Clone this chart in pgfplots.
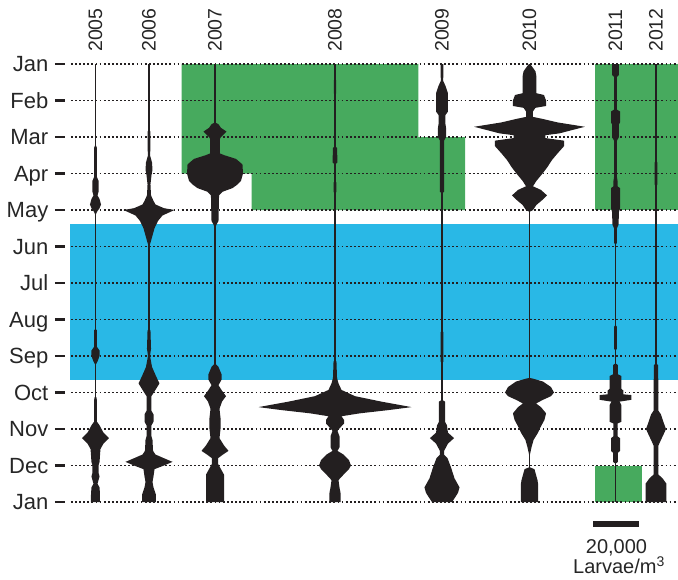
\documentclass[border=0pt]{standalone}
\usepackage{fontspec}
\setmainfont{Liberation Sans}
\usepackage{pgfplots}
\usepackage{pgfplotstable}
\pgfplotsset{compat=1.18}

\definecolor{kite}{HTML}{231F20}
\definecolor{sgreen}{RGB}{71,170,94}
\definecolor{sblue}{RGB}{41,184,230}

% kite widths: t = month (0 = Jan), w = larvae per m^3 (thousands)
\pgfplotstableread{
t w
0 0
2.2 0
2.3 1.3
3.1 1.3
3.2 2.7
3.5 2.7
3.6 1.8
3.7 3.6
3.85 4.9
3.95 3.6
4.05 1.3
4.15 0
7.25 0
7.3 1.3
7.75 1.3
7.85 3.6
8.0 3.6
8.15 1.8
8.25 0
9.1 0
9.15 1.1
9.8 1.3
9.9 3.6
10.1 7.1
10.25 12.0
10.4 7.1
10.55 4.4
10.9 3.6
11.0 2.7
11.2 2.7
11.3 3.6
11.4 2.7
11.5 1.8
11.6 3.6
11.8 4.0
12 4.0
}\yA
\pgfplotstableread{
t w
0 0
1.8 0
1.85 1.3
2.3 1.3
2.5 0.9
2.7 2.7
2.9 3.1
3.05 2.2
3.3 1.3
3.6 1.8
3.75 4.0
3.85 5.8
3.95 13.3
4.0 22.7
4.05 19.1
4.15 12.0
4.3 8.0
4.5 4.9
4.7 3.1
4.9 1.3
5.0 0
7.25 0
7.3 1.3
7.8 1.8
8.0 0.9
8.3 2.7
8.55 6.2
8.75 9.3
8.95 5.3
9.1 2.2
9.5 2.2
9.6 4.0
9.8 4.0
9.9 2.2
10.2 2.2
10.3 3.1
10.6 3.6
10.7 5.8
10.8 13.3
10.9 20.9
11.0 13.3
11.1 4.9
11.3 4.0
11.45 3.1
11.6 4.0
11.8 6.2
12 6.2
}\yB
\pgfplotstableread{
t w
0 0
1.6 0
1.65 3.1
1.75 5.3
1.85 10.2
1.95 7.1
2.0 5.3
2.05 4.4
2.45 4.4
2.5 8.4
2.6 18.7
2.75 24.4
3.0 24.9
3.2 23.1
3.3 20.0
3.4 15.6
3.5 6.7
3.6 3.6
4.3 3.1
4.4 1.3
4.5 0
8.2 0
8.3 3.1
8.5 5.8
8.65 5.8
8.8 3.1
8.95 6.2
9.1 9.8
9.25 6.2
9.45 4.0
9.7 4.9
10.0 4.9
10.25 4.0
10.45 8.0
10.6 12.0
10.7 7.1
10.8 2.7
10.95 2.7
11.15 6.2
11.25 8.0
12 8.0
}\yC
\pgfplotstableread{
t w
0 0
0.4 0
0.45 1.1
0.8 1.1
0.85 0
2.25 0
2.3 1.8
2.7 2.2
2.75 0
3.2 0
3.25 1.3
3.5 1.3
3.55 0
8.1 0
8.15 1.3
8.6 1.8
8.75 3.1
8.93 5.8
9.1 17.8
9.25 41.3
9.4 68.0
9.48 48.0
9.57 22.2
9.65 5.8
9.75 8.0
9.85 8.0
9.97 4.4
10.05 2.2
10.2 4.0
10.5 4.0
10.6 2.2
10.7 7.6
10.85 12.4
11.0 14.2
11.1 12.4
11.25 7.6
11.4 3.1
11.6 4.0
11.75 4.9
12 4.9
}\yD
\pgfplotstableread{
t w
0 1.3
0.3 1.3
0.45 0.9
0.6 3.1
0.8 5.3
1.3 5.3
1.4 3.1
1.65 3.1
1.75 3.6
2.0 3.6
2.1 1.8
3.5 1.8
3.55 0
7.3 0
7.35 1.3
8.15 1.3
8.2 0
9.2 0
9.25 2.7
9.8 2.7
9.9 4.4
10.1 5.3
10.25 10.7
10.4 5.3
10.5 3.6
10.6 1.8
10.7 1.8
10.8 4.9
11.05 8.0
11.35 11.1
11.6 15.6
11.75 14.2
11.9 11.1
12 8.9
}\yE
\pgfplotstableread{
t w
0 0.4
0.05 1.8
0.2 5.3
0.35 6.2
0.8 6.2
0.85 12.9
1.0 14.7
1.15 14.7
1.2 5.3
1.3 3.1
1.45 3.1
1.5 11.1
1.6 24.9
1.72 49.3
1.8 39.1
1.9 26.7
1.95 14.2
2.03 14.2
2.1 30.7
2.25 30.7
2.45 24.9
2.63 20.0
2.82 16.0
3.0 11.6
3.2 6.2
3.35 3.1
3.45 10.2
3.6 15.6
3.72 11.6
3.86 6.2
4.0 3.1
4.05 0
8.6 0
8.62 3.1
8.7 12.0
8.85 19.1
9.0 21.8
9.1 19.1
9.2 12.0
9.3 5.8
9.4 10.2
9.57 14.7
9.75 13.3
9.95 9.8
10.1 7.6
10.3 3.6
10.5 1.8
10.7 0.4
11.05 0.4
11.1 4.4
11.4 7.1
11.5 7.6
12 7.6
}\yF
\pgfplotstableread{
t w
0 3.1
0.3 3.1
0.35 1.3
1.25 1.3
1.3 4.0
1.6 4.0
1.65 3.1
2.0 3.1
2.1 1.3
3.1 1.3
3.2 1.8
3.35 1.8
3.4 4.0
3.95 4.0
4.05 3.1
4.4 2.7
4.5 1.3
4.9 1.3
4.95 0
7.15 0
7.2 1.3
7.8 1.3
7.85 0
8.2 0
8.25 2.2
8.5 2.2
8.55 5.3
8.9 5.3
8.95 7.1
9.05 7.1
9.07 14.2
9.2 14.2
9.25 3.6
9.35 5.3
9.8 5.3
9.85 1.8
10.2 1.8
10.25 4.0
10.6 4.0
10.65 2.2
10.9 2.2
10.95 0
12 0
}\yG
\pgfplotstableread{
t w
0 0
2.65 0
2.7 1.3
3.3 1.3
3.35 0
8.2 0
8.25 1.8
9.0 2.2
9.5 2.2
9.6 4.4
9.85 7.1
10.0 8.9
10.15 6.7
10.3 4.4
10.45 2.2
11.25 2.2
11.35 5.8
11.5 9.3
12 9.3
}\yH

% 20,000 larvae/m^3 = 45 units of x, so half width = 1.125 per thousand
\newcommand{\kite}[2]{%
  \addplot[fill=kite, draw=none] table[x expr={#2+1.125*\thisrow{w}}, y=t] {#1}
    -- (axis cs:#2,12) -- (axis cs:#2,0) -- cycle;
  \addplot[fill=kite, draw=none] table[x expr={#2-1.125*\thisrow{w}}, y=t] {#1}
    -- (axis cs:#2,12) -- (axis cs:#2,0) -- cycle;
  \addplot[kite, line width=1.2pt] coordinates {(#2,0) (#2,12)};
}
\tikzset{yearlbl/.style={rotate=90, anchor=west, inner sep=0pt,
  font=\fontsize{19.5}{22}\selectfont, text=black!85}}

\begin{document}
\begin{tikzpicture}
\path[use as bounding box] (0pt,64pt) rectangle (678pt,-515pt);
\begin{axis}[
    at={(65pt,0pt)}, anchor=north west,
    scale only axis, width=613pt, height=438pt,
    xmin=65, xmax=678, ymin=0, ymax=12,
    y dir=reverse,
    clip=false,
    axis x line=none,
    axis y line*=left,
    axis line style={draw=none},
    xtick=\empty,
    ytick={0,1,...,12},
    yticklabels={Jan,Feb,Mar,Apr,May,Jun,Jul,Aug,Sep,Oct,Nov,Dec,Jan},
    tick align=outside,
    major tick length=10pt,
    ytick style={line width=2.8pt, kite},
    yticklabel style={font=\fontsize{22}{26}\selectfont, anchor=east,
        inner sep=0pt, xshift=-6.5pt, text height=15.8pt, text depth=0pt,
        text=black!85},
]
% seasons
\addplot[fill=sgreen, draw=none] coordinates {
  (181.7,0) (418.3,0) (418.3,2) (465,2) (465,4) (251.7,4) (251.7,3) (181.7,3)} -- cycle;
\addplot[fill=sgreen, draw=none] coordinates {(595,0) (678,0) (678,4) (595,4)} -- cycle;
\addplot[fill=sgreen, draw=none] coordinates {(595,11) (641.7,11) (641.7,12) (595,12)} -- cycle;
\addplot[fill=sblue, draw=none] coordinates {(70,4.39) (678,4.39) (678,8.66) (70,8.66)} -- cycle;

% dotted month lines
\pgfplotsinvokeforeach{0,...,12}{
  \draw[kite, line width=1.8pt, dash pattern=on 1.8pt off 2.3pt] (axis cs:71,#1) -- (axis cs:678,#1);
}

\kite{\yA}{95.5}
\kite{\yB}{149}
\kite{\yC}{215}
\kite{\yD}{335}
\kite{\yE}{442}
\kite{\yF}{529.5}
\kite{\yG}{615.5}
\kite{\yH}{656}

% year labels
\node[yearlbl] at (axis cs:95.5,-0.33) {2005};
\node[yearlbl] at (axis cs:149,-0.33) {2006};
\node[yearlbl] at (axis cs:215,-0.33) {2007};
\node[yearlbl] at (axis cs:335,-0.33) {2008};
\node[yearlbl] at (axis cs:442,-0.33) {2009};
\node[yearlbl] at (axis cs:529.5,-0.33) {2010};
\node[yearlbl] at (axis cs:615.5,-0.33) {2011};
\node[yearlbl] at (axis cs:656,-0.33) {2012};

% scale bar
\fill[kite] (axis cs:593,12.52) rectangle (axis cs:638.5,12.68);
\node[anchor=base, inner sep=0pt, font=\fontsize{20}{24}\selectfont, text=black!85]
  at (axis cs:616.5,13.42) {20,000};
\node[anchor=base, inner sep=0pt, font=\fontsize{20}{24}\selectfont, text=black!85]
  at (axis cs:619,13.97) {Larvae/m\textsuperscript{3}};
\end{axis}
\end{tikzpicture}
\end{document}
